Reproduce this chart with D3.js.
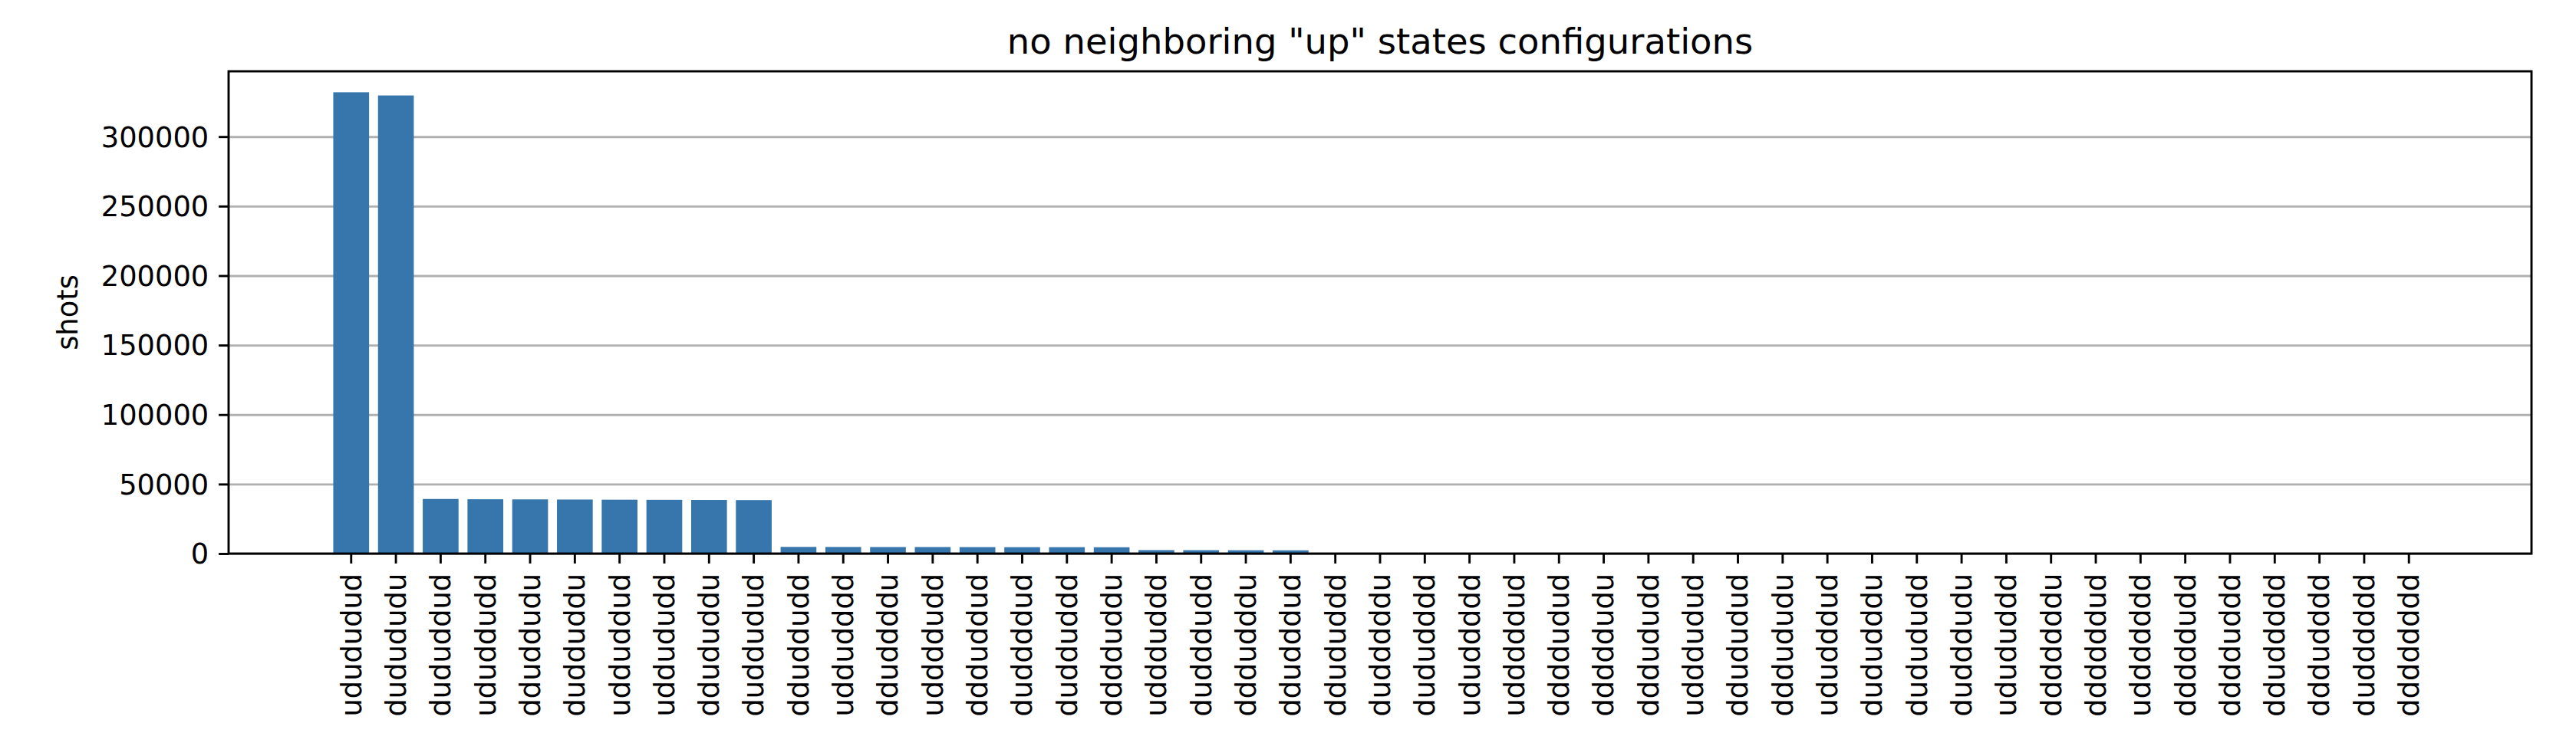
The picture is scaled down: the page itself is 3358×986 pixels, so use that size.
<!DOCTYPE html>
<html lang="en">
<head>
    <meta charset="UTF-8">
    <title>no neighboring "up" states configurations</title>
    <script src="https://d3js.org/d3.v7.min.js"></script>
    <style>
        body {
            margin: 0;
            background-color: #ffffff;
            font-family: 'DejaVu Sans', sans-serif;
        }
        .axis text {
            font-family: 'DejaVu Sans', sans-serif;
            fill: #000;
        }
        .grid line {
            stroke: #b0b0b0;
            stroke-width: 2.9px;
        }
    </style>
</head>
<body>
    <div id="chart"></div>
    <script>
        // configurations, sorted by number of shots
        const configs = [
            "udududud", "dudududu",
            "dududdud", "ududdudd", "dduddudu", "dudduddu", "udduddud", "uddududd", "ddududdu", "duddudud",
            "dduddudd", "uddudddd", "dduddddu", "uddddudd", "ddduddud", "duddddud", "dudduddd", "dddduddu",
            "uddduddd", "dudddudd", "dddudddu", "ddudddud",
            "ddududdd", "dudddddu", "dududddd", "ududdddd", "udddddud", "ddddudud", "dddddudu", "dddududd",
            "udddudud", "ddududud", "dddududu", "ududddud", "dududddu", "dudududd", "dudddudu", "udududdd",
            "dddddddu", "ddddddud", "uddddddd", "dddddudd", "dddduddd", "dduddddd", "dddudddd", "dudddddd",
            "dddddddd"
        ];
        const shots = [
            331900, 329600,
            39300, 39100, 39000, 38900, 38800, 38700, 38600, 38500,
            4800, 4750, 4700, 4700, 4650, 4600, 4600, 4550,
            2500, 2450, 2400, 2350,
            420, 410, 400, 390, 380, 370, 360, 350,
            300, 295, 290, 285, 280, 275, 270, 265,
            120, 115, 110, 108, 105, 102, 100, 96,
            20
        ];
        const yTicks = [0, 50000, 100000, 150000, 200000, 250000, 300000];
        const yMax = 347000;

        const W = 3358, H = 986;
        const margin = {left: 298, right: 3300, top: 93, bottom: 722};
        const fontSize = 36.8;
        const tickLen = 12.9, pad = 12.9, lw = 2.9;

        const svg = d3.select("#chart")
            .append("svg")
            .attr("width", W)
            .attr("height", H);

        const x = d3.scaleBand()
            .domain(configs)
            .range([margin.left, margin.right])
            .paddingInner(0.2)
            .paddingOuter(2.34);

        const y = d3.scaleLinear()
            .domain([0, yMax])
            .range([margin.bottom, margin.top]);

        // horizontal grid lines
        svg.append("g")
            .attr("class", "grid")
            .attr("transform", `translate(${margin.left},0)`)
            .call(d3.axisLeft(y).tickValues(yTicks).tickSize(-(margin.right - margin.left)).tickFormat(""))
            .call(g => g.select(".domain").remove());

        // bars
        svg.append("g")
            .selectAll("rect")
            .data(configs)
            .join("rect")
            .attr("x", d => x(d))
            .attr("width", x.bandwidth())
            .attr("y", (d, i) => y(shots[i]))
            .attr("height", (d, i) => y(0) - y(shots[i]))
            .attr("fill", "#3776ad");

        // x axis with rotated labels
        const xAxis = svg.append("g")
            .attr("class", "axis")
            .attr("transform", `translate(0,${margin.bottom})`)
            .call(d3.axisBottom(x).tickSize(tickLen).tickSizeOuter(0));
        xAxis.select(".domain").remove();
        xAxis.selectAll(".tick line").attr("stroke", "#000").attr("stroke-width", lw);
        xAxis.selectAll(".tick text")
            .attr("font-size", fontSize)
            .attr("text-anchor", "end")
            .attr("transform", "rotate(-90)")
            .attr("x", -(tickLen + pad))
            .attr("y", 0)
            .attr("dy", "0.35em");

        // y axis
        const yAxis = svg.append("g")
            .attr("class", "axis")
            .attr("transform", `translate(${margin.left},0)`)
            .call(d3.axisLeft(y).tickValues(yTicks).tickSize(tickLen).tickPadding(pad).tickFormat(d3.format("d")));
        yAxis.select(".domain").remove();
        yAxis.selectAll(".tick line").attr("stroke", "#000").attr("stroke-width", lw);
        yAxis.selectAll(".tick text")
            .attr("font-size", fontSize)
            .attr("dy", "0.35em");

        // frame
        svg.append("rect")
            .attr("x", margin.left)
            .attr("y", margin.top)
            .attr("width", margin.right - margin.left)
            .attr("height", margin.bottom - margin.top)
            .attr("fill", "none")
            .attr("stroke", "#000")
            .attr("stroke-width", lw);

        // title
        svg.append("text")
            .attr("x", (margin.left + margin.right) / 2)
            .attr("y", margin.top - 23)
            .attr("text-anchor", "middle")
            .attr("font-size", 46.5)
            .attr("font-family", "DejaVu Sans")
            .text('no neighboring "up" states configurations');

        // y label
        svg.append("text")
            .attr("transform", `translate(101,${(margin.top + margin.bottom) / 2}) rotate(-90)`)
            .attr("text-anchor", "middle")
            .attr("font-size", fontSize)
            .attr("font-family", "DejaVu Sans")
            .text("shots");
    </script>
</body>
</html>
